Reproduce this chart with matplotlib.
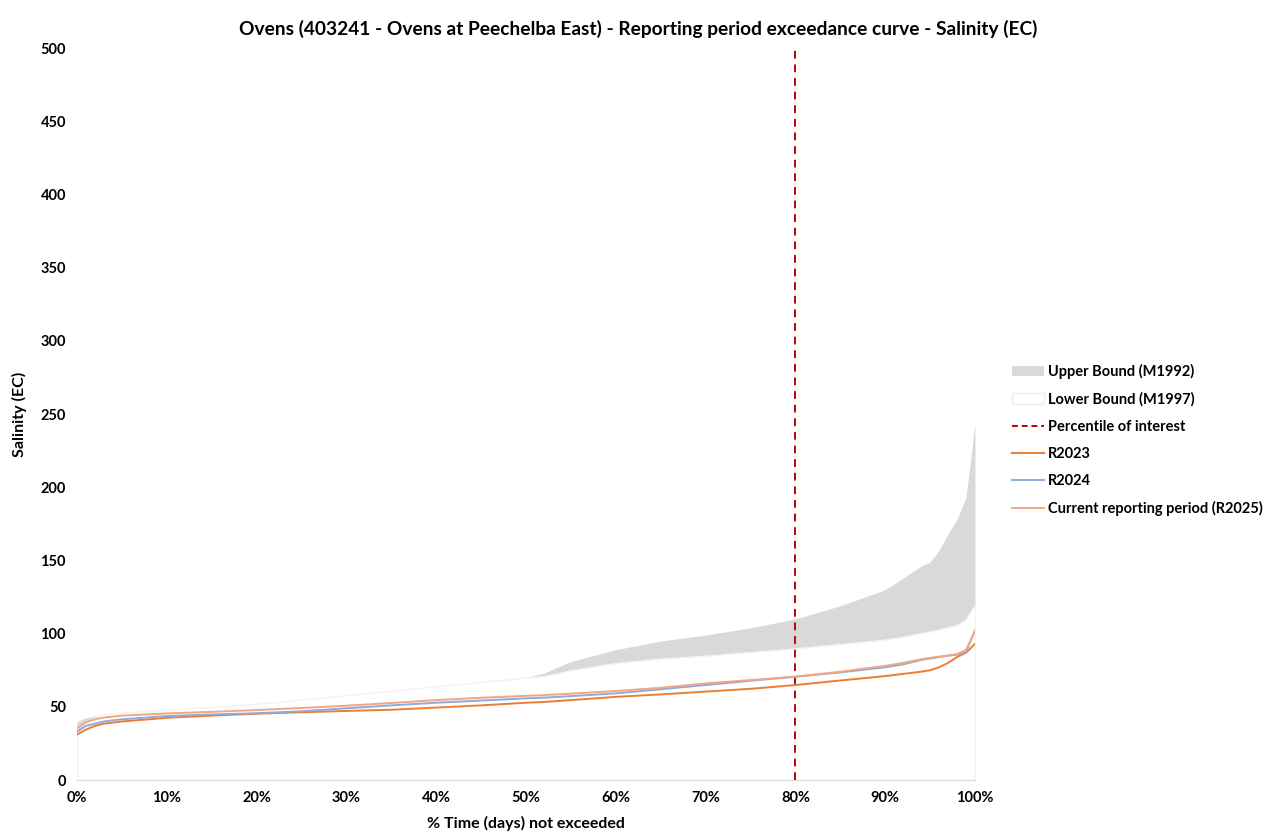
import numpy as np
import matplotlib
matplotlib.use('Agg')
import matplotlib.pyplot as plt
import matplotlib.patches as mpatches
from matplotlib.lines import Line2D

plt.rcParams['font.family'] = ['Lato', 'DejaVu Sans']

# percent of time not exceeded
pct = [0, 1, 2, 3, 5, 10, 15, 20, 25, 30, 35, 40, 45, 50, 52, 55, 60, 65, 70,
       75, 80, 85, 90, 92, 94, 95, 96, 97, 98, 99, 100]

# envelope bounds (EC)
upper_m1992 = [40, 42.5, 44, 44.5, 45, 46, 47.5, 49, 51, 53, 55, 58, 61, 70, 73,
               81, 89, 95, 99, 104, 110, 119, 130, 138, 146, 149, 157, 168, 178, 193, 243]
lower_m1997 = [32, 40, 43, 45, 46, 48, 50, 52, 55, 58, 61, 64, 67, 70, 71,
               75, 80, 83, 85, 87.5, 90, 93, 96, 98, 100.5, 101.5, 103, 104.5, 106, 110, 120]

# reporting periods (EC)
r2023 = [31, 34.5, 37, 38.5, 40, 42.5, 44, 45.3, 46.3, 47.2, 48, 49.5, 51, 52.8, 53.3,
         54.6, 56.8, 58.5, 60.4, 62.3, 64.9, 68, 71, 72.5, 74, 75, 77, 80, 84, 87, 93]
r2024 = [33, 37, 38.5, 40, 41.5, 43.7, 44.8, 45.6, 47, 49, 51, 52.8, 54.3, 55.8, 56.3,
         57.3, 59.2, 62, 64.9, 67.8, 70.6, 73.5, 77, 79, 82, 83, 84, 85, 85.6, 87.6, 102]
r2025 = [35.5, 39.5, 41.5, 42.7, 44, 45.5, 46.6, 47.8, 49.2, 50.8, 52.6, 54.6, 56.2, 57.5, 58,
         59, 60.8, 63, 66, 68.3, 70.6, 74, 78, 80, 82.5, 83.5, 84.3, 85, 86, 88.8, 102]

percentile_of_interest = 80

fig = plt.figure(figsize=(12.77, 8.34), dpi=100)
ax = fig.add_axes([0.0603, 0.0647, 0.7032, 0.8777])

# excel style overlapping areas: grey upper, white lower drawn on top
ax.fill_between(pct, 0, upper_m1992, color='#D9D9D9', lw=0, zorder=1)
ax.fill_between(pct, 0, lower_m1997, facecolor='white', edgecolor='#F2F2F2', lw=1.0, zorder=2)

ax.axvline(percentile_of_interest, color='#C00000', ls=(0, (4, 3)), lw=1.4, zorder=3)

ax.plot(pct, r2023, color='#ED7D31', lw=1.4, zorder=4)
ax.plot(pct, r2024, color='#8FAADC', lw=1.4, zorder=5)
ax.plot(pct, r2025, color='#F4A582', lw=1.4, zorder=6)

ax.set_xlim(0, 100)
ax.set_ylim(0, 500)
ax.set_xticks(np.arange(0, 101, 10))
ax.set_xticklabels([f'{v}%' for v in range(0, 101, 10)])
ax.set_yticks(np.arange(0, 501, 50))
ax.tick_params(length=0, labelsize=10.5, pad=8)
for lab in ax.get_xticklabels() + ax.get_yticklabels():
    lab.set_fontweight('bold')

for s in ['top', 'right', 'left']:
    ax.spines[s].set_visible(False)
ax.spines['bottom'].set_color('#D9D9D9')

ax.set_xlabel('% Time (days) not exceeded', fontsize=11.5, fontweight='bold', labelpad=8)
ax.set_ylabel('Salinity (EC)', fontsize=11.5, fontweight='bold', labelpad=10)
fig.text(0.5, 0.965, 'Ovens (403241 - Ovens at Peechelba East) - Reporting period exceedance curve - Salinity (EC)',
         ha='center', va='center', fontsize=13.8, fontweight='bold')

handles = [
    mpatches.Patch(facecolor='#D9D9D9', edgecolor='none', label='Upper Bound (M1992)'),
    mpatches.Patch(facecolor='white', edgecolor='#EEEEEE', label='Lower Bound (M1997)'),
    Line2D([0], [0], color='#C00000', ls=(0, (3, 2)), lw=1.4, label='Percentile of interest'),
    Line2D([0], [0], color='#ED7D31', lw=1.4, label='R2023'),
    Line2D([0], [0], color='#8FAADC', lw=1.4, label='R2024'),
    Line2D([0], [0], color='#F4A582', lw=1.4, label='Current reporting period (R2025)'),
]
leg = fig.legend(handles=handles, loc='center left', bbox_to_anchor=(0.782, 0.4724),
                 frameon=False, fontsize=10.5, handlelength=2.2, handletextpad=0.3,
                 labelspacing=0.9)
for t in leg.get_texts():
    t.set_fontweight('bold')

plt.savefig('out.png', dpi=100)
